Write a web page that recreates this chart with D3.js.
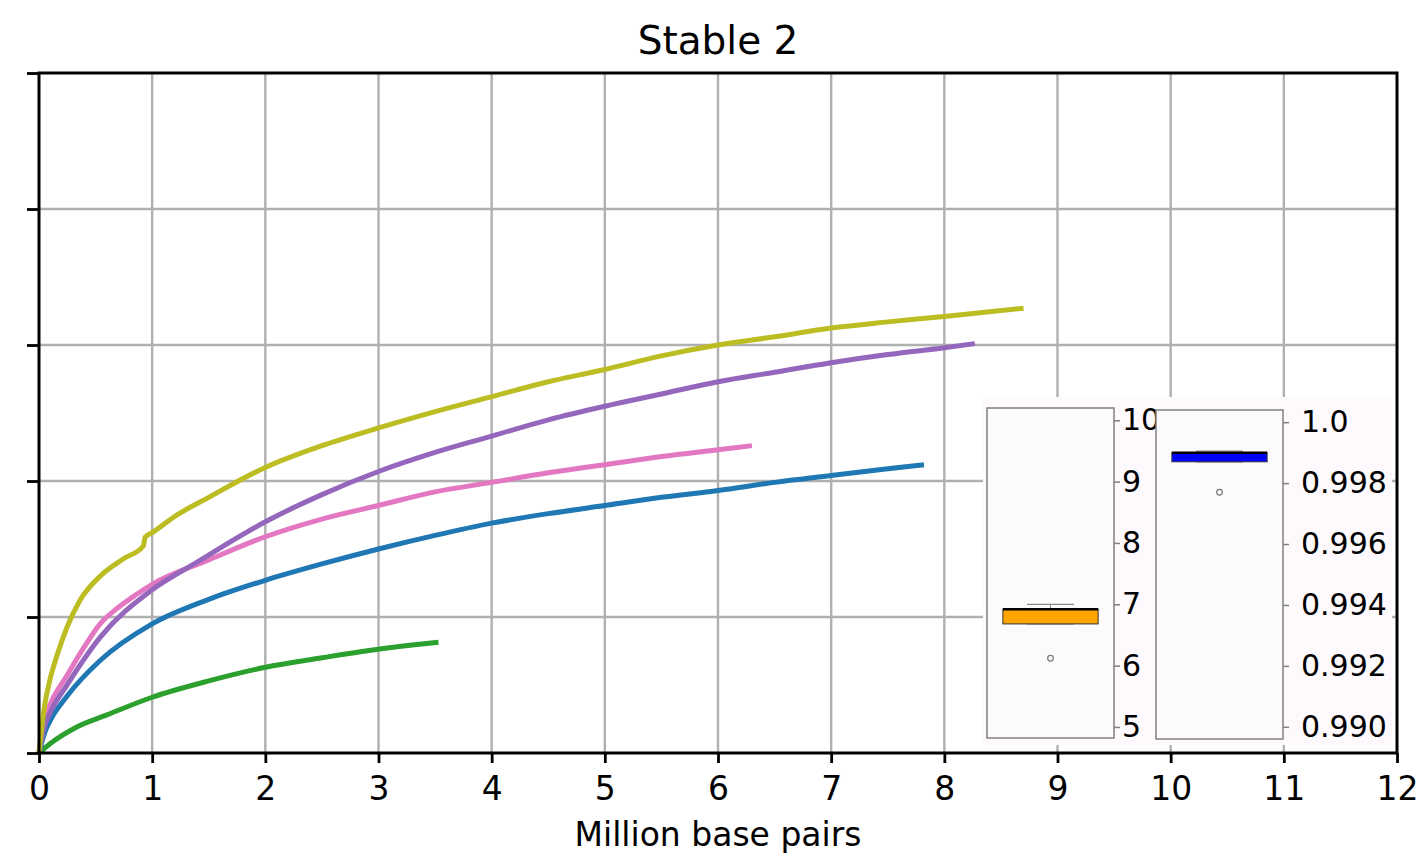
<!DOCTYPE html>
<html>
<head>
<meta charset="utf-8">
<script src="https://d3js.org/d3.v7.min.js"></script>
<style>
  body { margin: 0; background: #fff; }
  text { font-family: "DejaVu Sans", sans-serif; fill: #000; }
</style>
</head>
<body>
<svg id="chart" width="1418" height="863"></svg>
<script>
// main curves, x in million base pairs, y in plot units (axis has no labels)
const xTicks = [0,1,2,3,4,5,6,7,8,9,10,11,12];
const yTicks = [0,1,2,3,4,5];

const oliveX = [0,0.05,0.1,0.16,0.25,0.36,0.54,0.75,0.92,0.94,1,1.2,1.5,2,2.5,3,3.5,4,4.5,5,5.5,6,6.5,7,7.5,8,8.7];
const oliveY = [0,0.35,0.55,0.72,0.93,1.12,1.3,1.43,1.52,1.59,1.62,1.74,1.88,2.1,2.26,2.39,2.51,2.62,2.73,2.82,2.92,3.0,3.06,3.125,3.17,3.21,3.27];

const purpleX = [0,0.05,0.1,0.24,0.54,1,1.39,2,2.5,3,3.5,4,4.5,5,5.5,6,6.5,7,7.5,8,8.27];
const purpleY = [0,0.2,0.3,0.49,0.85,1.2,1.4,1.7,1.9,2.07,2.21,2.33,2.45,2.55,2.64,2.73,2.8,2.87,2.93,2.98,3.01];

const pinkX = [0,0.05,0.1,0.24,0.4,0.54,0.7,0.85,1,1.5,2,2.5,3,3.5,4,4.5,5,5.5,6,6.3];
const pinkY = [0,0.25,0.36,0.56,0.78,0.95,1.07,1.16,1.24,1.42,1.59,1.72,1.82,1.92,1.99,2.06,2.12,2.18,2.23,2.26];

const blueX = [0,0.05,0.1,0.24,0.54,1,1.5,2,2.5,3,3.5,4,4.5,5,5.5,6,6.5,7,7.5,7.82];
const blueY = [0,0.15,0.24,0.41,0.68,0.95,1.13,1.27,1.39,1.5,1.6,1.69,1.76,1.82,1.88,1.93,1.99,2.04,2.09,2.12];

const greenX = [0,0.1,0.33,0.6,1,1.5,2,2.5,2.84,3.2,3.53];
const greenY = [0,0.07,0.19,0.28,0.41,0.53,0.63,0.7,0.745,0.785,0.815];

// inset box plots: [whiskerLow, q1, median, q3, whiskerHigh], outliers
const boxA = [6.68, 6.68, 6.92, 6.92, 7.0];
const outA = [6.12];
const ticksA = [5,6,7,8,9,10];
const boxB = [0.9987, 0.9987, 0.999, 0.999, 0.99905];
const outB = [0.9977];
const ticksB = [0.990,0.992,0.994,0.996,0.998,1.0];

const svg = d3.select("#chart");
const L = 39, R = 1397, T = 73, B = 753;

const x = d3.scaleLinear().domain([0,12]).range([L,R]);
const y = d3.scaleLinear().domain([0,5]).range([B,T]);

// grid
svg.append("g").selectAll("line").data(xTicks.slice(1,-1)).join("line")
  .attr("x1", d => x(d)).attr("x2", d => x(d)).attr("y1", T).attr("y2", B)
  .attr("stroke", "#b0b0b0").attr("stroke-width", 2.4);
svg.append("g").selectAll("line").data(yTicks.slice(1,-1)).join("line")
  .attr("x1", L).attr("x2", R).attr("y1", d => y(d)).attr("y2", d => y(d))
  .attr("stroke", "#b0b0b0").attr("stroke-width", 2.4);

// curves
const series = [
  {xs: greenX, ys: greenY, c: "#2ca02c"},
  {xs: blueX, ys: blueY, c: "#1f77b4"},
  {xs: pinkX, ys: pinkY, c: "#e377c2"},
  {xs: purpleX, ys: purpleY, c: "#9467bd"},
  {xs: oliveX, ys: oliveY, c: "#bcbd22"}
];
const line = d3.line().x(d => x(d[0])).y(d => y(d[1])).curve(d3.curveMonotoneX);
series.forEach(s => {
  svg.append("path")
    .datum(s.xs.map((v,i) => [v, s.ys[i]]))
    .attr("d", line)
    .attr("fill", "none")
    .attr("stroke", s.c)
    .attr("stroke-width", 5)
    .attr("stroke-linejoin", "round");
});

// axes
const xAxis = svg.append("g").attr("transform", `translate(0,${B})`)
  .call(d3.axisBottom(x).tickValues(xTicks).tickFormat(d3.format("d")).tickSize(10).tickPadding(14));
const yAxis = svg.append("g").attr("transform", `translate(${L},0)`)
  .call(d3.axisLeft(y).tickValues(yTicks).tickFormat("").tickSize(12));
[xAxis, yAxis].forEach(g => {
  g.select(".domain").remove();
  g.selectAll("line").attr("stroke", "#000").attr("stroke-width", 2.8);
});
xAxis.selectAll("text").attr("font-size", 33).attr("font-family", "DejaVu Sans");

// inset background
svg.append("rect").attr("x", 983).attr("y", 397).attr("width", 409).attr("height", 348)
  .attr("fill", "#fdf9fd");

function boxPanel(left, top, right, bottom, dom, stats, outs, ticks, fill, fmt, labelX) {
  const ys = d3.scaleLinear().domain(dom).range([bottom, top]);
  const xs = d3.scaleLinear().domain([0.5,1.5]).range([left, right]);
  const g = svg.append("g");
  g.append("rect").attr("x", left).attr("y", top).attr("width", right-left).attr("height", bottom-top)
    .attr("fill", "#fdfafd").attr("stroke", "#808080").attr("stroke-width", 1.5);
  const ax = g.append("g").attr("transform", `translate(${right},0)`)
    .call(d3.axisRight(ys).tickValues(ticks).tickFormat(fmt).tickSize(6).tickPadding(4));
  ax.select(".domain").remove();
  ax.selectAll("line").attr("stroke", "#808080").attr("stroke-width", 1.5);
  ax.selectAll("text").attr("font-size", 30).attr("font-family", "DejaVu Sans").attr("x", labelX);
  const [lo, q1, med, q3, hi] = stats;
  // whiskers
  g.append("line").attr("x1", xs(1)).attr("x2", xs(1)).attr("y1", ys(q3)).attr("y2", ys(hi))
    .attr("stroke", "#888").attr("stroke-width", 1);
  g.append("line").attr("x1", xs(1)).attr("x2", xs(1)).attr("y1", ys(q1)).attr("y2", ys(lo))
    .attr("stroke", "#888").attr("stroke-width", 1);
  [lo, hi].forEach(v => {
    g.append("line").attr("x1", xs(1-0.185)).attr("x2", xs(1+0.185)).attr("y1", ys(v)).attr("y2", ys(v))
      .attr("stroke", "#888").attr("stroke-width", 1.2);
  });
  g.append("rect").attr("x", xs(1-0.375)).attr("width", xs(1.375)-xs(0.625))
    .attr("y", ys(q3)).attr("height", Math.max(ys(q1)-ys(q3), 1))
    .attr("fill", fill).attr("stroke", "#333").attr("stroke-width", 1);
  g.append("line").attr("x1", xs(1-0.375)).attr("x2", xs(1.375)).attr("y1", ys(med)).attr("y2", ys(med))
    .attr("stroke", "#000").attr("stroke-width", 2.5);
  g.selectAll("circle").data(outs).join("circle")
    .attr("cx", xs(1)).attr("cy", d => ys(d)).attr("r", 2.8)
    .attr("fill", "none").attr("stroke", "#777").attr("stroke-width", 1.2);
}
boxPanel(987, 408, 1114, 738, [4.82, 10.2], boxA, outA, ticksA, "#ffa500", d3.format("d"), 8);
boxPanel(1156, 410, 1283, 739, [0.9896, 1.0004], boxB, outB, ticksB, "#0000ff",
  d => d === 1 ? "1.0" : d3.format(".3f")(d), 18);

// frame
svg.append("rect").attr("x", L).attr("y", T).attr("width", R-L).attr("height", B-T)
  .attr("fill", "none").attr("stroke", "#000").attr("stroke-width", 3);

// titles
svg.append("text").attr("x", (L+R)/2).attr("y", 54).attr("text-anchor", "middle")
  .attr("font-size", 39).text("Stable 2");
svg.append("text").attr("x", (L+R)/2).attr("y", 846).attr("text-anchor", "middle")
  .attr("font-size", 33).text("Million base pairs");
</script>
</body>
</html>
